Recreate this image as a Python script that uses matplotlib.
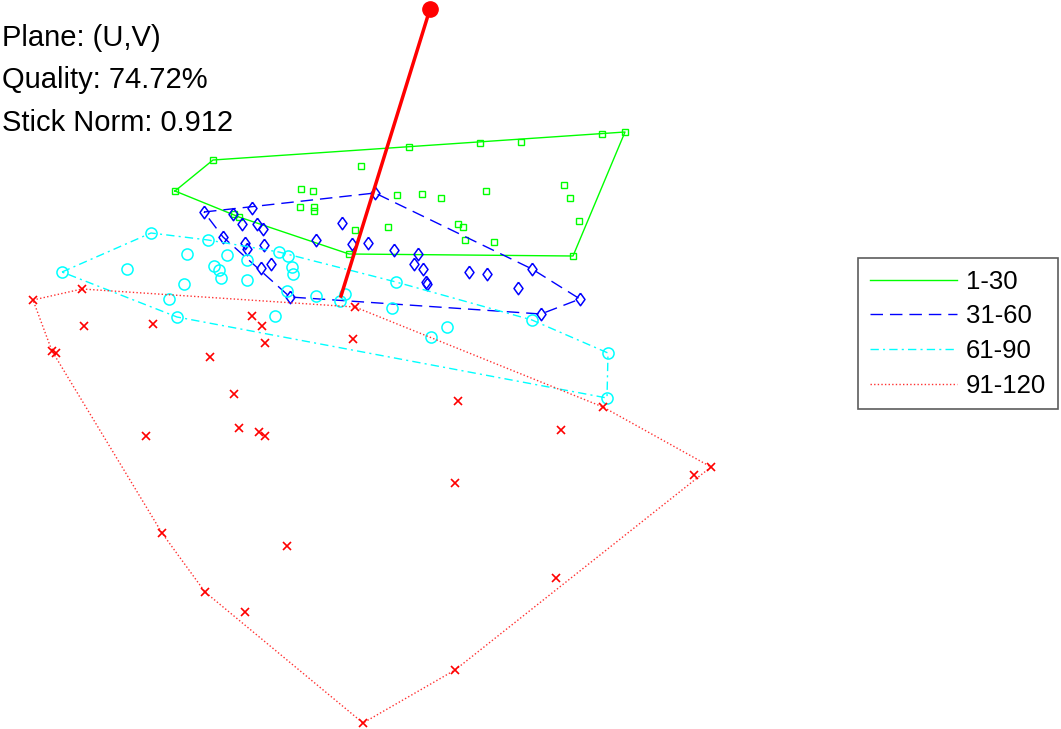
import matplotlib
matplotlib.use("Agg")
import matplotlib.pyplot as plt

plt.rcParams['font.family'] = ['Liberation Sans', 'DejaVu Sans']

# projected scores (screen units, y grows downward)
g_x = [625, 602, 521, 480, 409, 213, 175, 361, 301, 313, 300, 314, 314, 397, 422,
       441, 486, 564, 570, 579, 458, 463, 465, 494, 388, 355, 349, 573, 234, 239]
g_y = [132, 134, 142, 143, 147, 160, 191, 166, 189, 191, 207, 207, 211, 195, 194,
       198, 191, 185, 198, 221, 224, 227, 240, 242, 227, 230, 254, 256, 214, 217]

b_x = [204, 233, 252, 375, 242, 257, 263, 342, 316, 223, 245, 247, 264, 352, 368,
       394, 418, 414, 423, 426, 427, 469, 487, 532, 518, 580, 541, 261, 271, 290]
b_y = [212, 214, 208, 193, 224, 224, 229, 223, 240, 237, 243, 249, 245, 244, 243,
       250, 254, 264, 269, 282, 284, 272, 274, 269, 288, 299, 314, 268, 264, 297]

c_x = [151, 62, 127, 187, 208, 227, 214, 219, 221, 247, 247, 184, 169, 177, 279,
       288, 292, 293, 287, 316, 340, 345, 275, 396, 392, 447, 431, 532, 608, 607]
c_y = [233, 272, 269, 254, 240, 255, 266, 270, 278, 260, 280, 284, 299, 317, 252,
       256, 267, 274, 291, 296, 301, 294, 316, 282, 308, 327, 337, 320, 353, 398]

r_x = [33, 82, 84, 153, 52, 56, 210, 252, 262, 265, 355, 234, 146, 239, 259,
       265, 353, 458, 603, 561, 694, 711, 455, 162, 287, 205, 245, 556, 455, 363]
r_y = [300, 289, 326, 324, 351, 353, 357, 316, 326, 343, 307, 394, 436, 428, 432,
       436, 339, 401, 407, 430, 475, 467, 483, 533, 546, 592, 612, 578, 670, 723]

stick_x = [341, 430]
stick_y = [296, 9]

labels = ["1-30", "31-60", "61-90", "91-120"]
info = ["Plane: (U,V)", "Quality: 74.72%", "Stick Norm: 0.912"]


def hull(xs, ys):
    pts = sorted(set(zip(xs, ys)))

    def cross(o, a, b):
        return (a[0] - o[0]) * (b[1] - o[1]) - (a[1] - o[1]) * (b[0] - o[0])
    lower, upper = [], []
    for p in pts:
        while len(lower) >= 2 and cross(lower[-2], lower[-1], p) <= 0:
            lower.pop()
        lower.append(p)
    for p in reversed(pts):
        while len(upper) >= 2 and cross(upper[-2], upper[-1], p) <= 0:
            upper.pop()
        upper.append(p)
    h = lower[:-1] + upper[:-1]
    h.append(h[0])
    return [p[0] for p in h], [p[1] for p in h]


fig = plt.figure(figsize=(10.61, 7.29), dpi=100)
ax = fig.add_axes([0, 0, 1, 1])
ax.set_xlim(0, 1061)
ax.set_ylim(729, 0)
ax.axis('off')

diamond = [(0, 1), (0.72, 0), (0, -1), (-0.72, 0), (0, 1)]
groups = [
    (g_x, g_y, '#00ff00', '#00ff00', 's', 5, 1.0, dict(linestyle='-')),
    (b_x, b_y, '#0000ff', '#0000ff', diamond, 9, 1.1, dict(dashes=(9, 5))),
    (c_x, c_y, '#00ffff', '#00ffff', 'o', 8, 1.1, dict(dashes=(6, 3, 1.5, 3))),
    (r_x, r_y, '#ff3030', '#ff0000', 'x', 5.5, 1.2, dict(dashes=(1, 1.6))),
]
handles = []
for (xs, ys, col, mcol, mk, ms, mew, ls), lab in zip(groups, labels):
    hx, hy = hull(xs, ys)
    ln, = ax.plot(hx, hy, color=col, lw=1.0, label=lab, **ls)
    handles.append(ln)
    ax.plot(xs, ys, linestyle='none', marker=mk, ms=ms, mfc='none',
            mec=mcol, mew=mew)

ax.plot(stick_x, stick_y, color='#ff0000', lw=2.5)
ax.plot(stick_x[1:], stick_y[1:], 'o', color='#ff0000', ms=11)

for i, t in enumerate(info):
    ax.text(2, [46, 88, 131][i], t, fontsize=21, va='baseline', ha='left')

leg = fig.legend(handles=handles, loc='upper left',
                 bbox_to_anchor=(858 / 1061, 1 - 258 / 729), fontsize=18.5,
                 frameon=True, fancybox=False, edgecolor='#333333',
                 handlelength=3.4, handletextpad=0.35, labelspacing=0.42,
                 borderpad=0.45, borderaxespad=0)
leg.get_frame().set_linewidth(1.2)

fig.savefig("out.png", dpi=100)
